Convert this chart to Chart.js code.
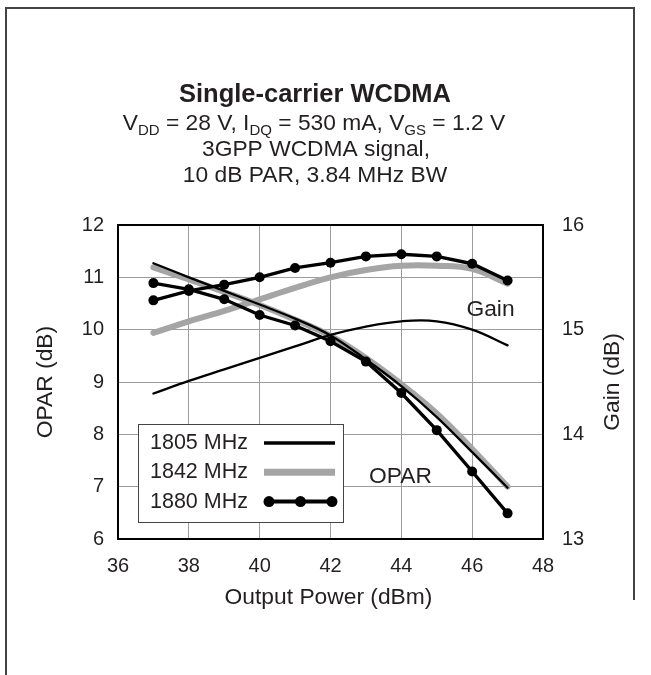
<!DOCTYPE html>
<html><head><meta charset="utf-8">
<script src="https://cdn.jsdelivr.net/npm/chart.js@4.4.1/dist/chart.umd.min.js"></script>
<style>html,body{margin:0;padding:0;background:#fff}#wrap{position:relative;width:651px;height:675px}</style>
</head><body><div id="wrap"><canvas id="c" width="651" height="675"></canvas></div>
<script>
const outputPower = [37,38,39,40,41,42,43,44,45,46,47];
const opar1805 = [11.27,11.00,10.74,10.48,10.21,9.89,9.43,8.92,8.33,7.66,6.98];
const opar1842 = [11.19,10.96,10.72,10.47,10.19,9.88,9.46,8.96,8.40,7.72,7.00];
const opar1880 = [10.89,10.77,10.58,10.28,10.08,9.78,9.39,8.79,8.08,7.29,6.49];
const gain1805 = [14.39,14.51,14.62,14.73,14.84,14.95,15.03,15.08,15.08,15.00,14.85];
const gain1842 = [14.97,15.08,15.18,15.29,15.40,15.50,15.57,15.61,15.61,15.58,15.44];
const gain1880 = [15.28,15.37,15.43,15.50,15.59,15.64,15.70,15.72,15.70,15.63,15.47];
const xTicks = [36,38,40,42,44,46,48];
const oparTicks = [6,7,8,9,10,11,12];
const gainTicks = [13,14,15,16];
const legendLabels = ['1805 MHz','1842 MHz','1880 MHz'];
const titleText = 'Single-carrier WCDMA';
const subLine1 = [['V',0],['DD',1],[' = 28 V, I',0],['DQ',1],[' = 530 mA, V',0],['GS',1],[' = 1.2 V',0]];
const subLine2 = '3GPP WCDMA signal,';
const subLine3 = '10 dB PAR, 3.84 MHz BW';
const xTitle = 'Output Power (dBm)';
const yTitle = 'OPAR (dB)';
const y2Title = 'Gain (dB)';
const gainLabel = 'Gain';
const oparLabel = 'OPAR';

const FONT = '"Liberation Sans", Arial, Helvetica, sans-serif';
const TXT = '#231f20';
const BLACK = '#000';
const GRAY = '#a5a5a5';

const pts = arr => outputPower.map((x,i)=>({x, y: arr[i]}));

const styles = [
  {color: BLACK, width: 2.3, radius: 0, tension: 0.4, order: 2},
  {color: GRAY, width: 6, radius: 0, tension: 0.4, order: 3},
  {color: BLACK, width: 3.4, radius: 5, tension: 0, order: 1}
];
function ds(label, arr, s, axis){
  return {label, data: pts(arr), yAxisID: axis, borderColor: s.color, backgroundColor: s.color,
    borderWidth: s.width, pointRadius: s.radius, pointHoverRadius: s.radius, pointBorderWidth: 0,
    tension: s.tension, order: s.order, fill: false, borderCapStyle: 'round'};
}

function drawRich(ctx, parts, cx, baseline, size, subSize, subDrop){
  let total = 0;
  const widths = parts.map(([t,sub])=>{ ctx.font = `${sub?subSize:size}px ${FONT}`; const w = ctx.measureText(t).width; total += w; return w; });
  let x = cx - total/2;
  ctx.textAlign = 'left';
  parts.forEach(([t,sub],i)=>{ ctx.font = `${sub?subSize:size}px ${FONT}`; ctx.fillText(t, x, baseline + (sub?subDrop:0)); x += widths[i]; });
}

const deco = {
  id: 'deco',
  beforeDraw(chart){
    const ctx = chart.ctx;
    ctx.save();
    ctx.fillStyle = '#fff'; ctx.fillRect(0,0,chart.width,chart.height);
    ctx.strokeStyle = '#444'; ctx.lineWidth = 2;
    ctx.beginPath(); ctx.moveTo(6, 675); ctx.lineTo(6, 8); ctx.lineTo(634, 8); ctx.lineTo(634, 600); ctx.stroke();
    ctx.restore();
  },
  afterDatasetsDraw(chart){
    const ctx = chart.ctx, a = chart.chartArea;
    ctx.save();
    ctx.strokeStyle = BLACK; ctx.lineWidth = 2;
    ctx.strokeRect(a.left, a.top, a.right - a.left, a.bottom - a.top);
    ctx.fillStyle = TXT; ctx.textBaseline = 'alphabetic';
    // title block
    ctx.textAlign = 'center';
    ctx.font = `bold 25.5px ${FONT}`; ctx.fillText(titleText, 315, 102);
    drawRich(ctx, subLine1, 314, 130, 22.8, 15, 5);
    ctx.textAlign = 'center';
    ctx.font = `22.8px ${FONT}`;
    ctx.fillText(subLine2, 316, 155.5);
    ctx.fillText(subLine3, 315, 181.5);
    // axis titles
    ctx.fillText(xTitle, 328.5, 604);
    ctx.save(); ctx.translate(46, (a.top+a.bottom)/2); ctx.rotate(-Math.PI/2); ctx.textBaseline = 'middle'; ctx.fillText(yTitle, 0, 0); ctx.restore();
    ctx.save(); ctx.translate(613, (a.top+a.bottom)/2); ctx.rotate(-Math.PI/2); ctx.textBaseline = 'middle'; ctx.fillText(y2Title, 0, 0); ctx.restore();
    // annotations
    ctx.fillText(gainLabel, 490.5, 316);
    ctx.fillText(oparLabel, 400.5, 483);
    // legend
    const lx = 138, ly = 424, lw = 205, lh = 98;
    ctx.fillStyle = '#fff'; ctx.fillRect(lx, ly, lw, lh);
    ctx.strokeStyle = '#444'; ctx.lineWidth = 1; ctx.strokeRect(lx+0.5, ly+0.5, lw, lh);
    ctx.font = `21.5px ${FONT}`; ctx.textAlign = 'left'; ctx.textBaseline = 'middle';
    legendLabels.forEach((lab,i)=>{
      const y = 443 + i*29.3, s = styles[i];
      ctx.fillStyle = TXT; ctx.fillText(lab, 150, y);
      ctx.strokeStyle = s.color; ctx.lineWidth = (i===0?3.5:(i===1?7:4));
      ctx.lineCap = 'butt';
      ctx.beginPath(); ctx.moveTo(264, y); ctx.lineTo(335, y); ctx.stroke();
      if (s.radius){ ctx.fillStyle = s.color; [269,300.5,332].forEach(px=>{ ctx.beginPath(); ctx.arc(px, y, 5.5, 0, Math.PI*2); ctx.fill(); }); }
    });
    ctx.restore();
  }
};

new Chart(document.getElementById('c'), {
  type: 'line',
  data: { datasets: [
    ds('OPAR ' + legendLabels[0], opar1805, styles[0], 'y'),
    ds('OPAR ' + legendLabels[1], opar1842, styles[1], 'y'),
    ds('OPAR ' + legendLabels[2], opar1880, styles[2], 'y'),
    ds('Gain ' + legendLabels[0], gain1805, styles[0], 'y2'),
    ds('Gain ' + legendLabels[1], gain1842, styles[1], 'y2'),
    ds('Gain ' + legendLabels[2], gain1880, styles[2], 'y2')
  ]},
  options: {
    responsive: false, animation: false, devicePixelRatio: 1,
    layout: { padding: { top: 225, left: 0, right: 0, bottom: 0 } },
    plugins: { legend: { display: false }, title: { display: false }, tooltip: { enabled: false } },
    scales: {
      x: { type: 'linear', min: 36, max: 48,
        afterBuildTicks: s => { s.ticks = xTicks.map(v=>({value:v})); },
        afterFit: s => { s.height = 136; },
        grid: { color: '#9d9d9d', lineWidth: 1, drawTicks: false },
        border: { display: false },
        ticks: { color: TXT, font: { family: FONT, size: 20 }, padding: 15, maxRotation: 0 } },
      y: { type: 'linear', position: 'left', min: 6, max: 12,
        afterBuildTicks: s => { s.ticks = oparTicks.map(v=>({value:v})); },
        afterFit: s => { s.width = 118; },
        grid: { color: '#9d9d9d', lineWidth: 1, drawTicks: false },
        border: { display: false },
        ticks: { color: TXT, font: { family: FONT, size: 20 }, padding: 14 } },
      y2: { type: 'linear', position: 'right', min: 13, max: 16,
        afterBuildTicks: s => { s.ticks = gainTicks.map(v=>({value:v})); },
        afterFit: s => { s.width = 108; },
        grid: { display: false, drawTicks: false },
        border: { display: false },
        ticks: { color: TXT, font: { family: FONT, size: 20 }, padding: 19 } }
    }
  },
  plugins: [deco]
});
</script></body></html>
